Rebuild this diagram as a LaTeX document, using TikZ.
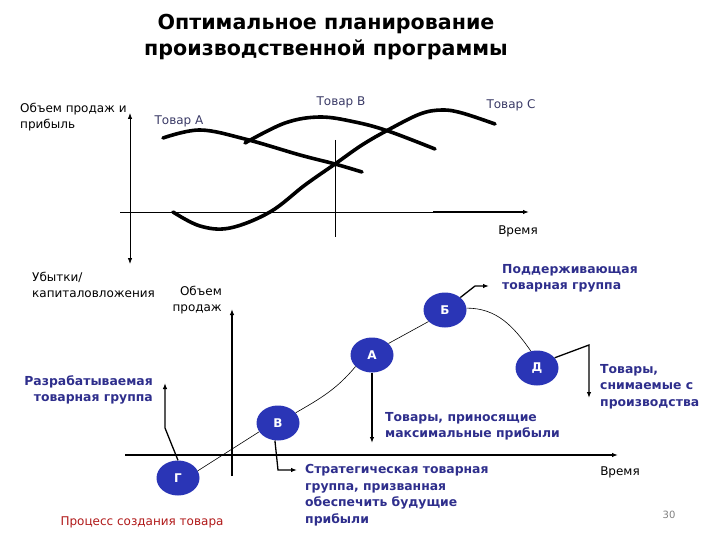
\documentclass[tikz,border=0pt]{standalone}
\usepackage{fontspec}
\setmainfont{DejaVu Sans}
\usetikzlibrary{arrows.meta, shapes.geometric, positioning, calc}
\definecolor{PlanInk}{HTML}{2E2E8C}
\definecolor{StageBlue}{HTML}{2A35B6}
\definecolor{ProcRed}{HTML}{B01818}
\definecolor{ProductInk}{HTML}{3A3A66}
\newcommand{\LabelFont}{\fontsize{12pt}{16pt}\selectfont}
\newcommand{\NoteFont}{\bfseries\fontsize{12.4pt}{16.7pt}\selectfont}

\begin{document}
\begin{tikzpicture}[x=1pt, y=-1pt,
  curve/.style={line width=3.6pt, line cap=round},
  stage/.style={ellipse, fill=StageBlue, minimum width=43pt, minimum height=35pt, inner sep=0pt,
    text=white, font=\bfseries\fontsize{12pt}{13pt}\selectfont},
  note/.style={text=PlanInk, font=\NoteFont, inner sep=0pt},
  plain/.style={font=\LabelFont, inner sep=0pt},
  pointer/.style={line width=1.3pt, -{Latex[length=6pt,width=4.5pt]}}
]
  \useasboundingbox (0,0) rectangle (720,540);
  % title
  \node[font=\bfseries\fontsize{20.6pt}{26pt}\selectfont, align=center] (title) at (326,37)
    {Оптимальное планирование\\производственной программы};

  % top chart: axes and the marker line
  \coordinate (ytop) at (130,113);
  \coordinate (ybot) at (130,264);
  \coordinate (xleft) at (120,212);
  \coordinate (xmid) at (433,212);
  \coordinate (xend) at (529,212);
  \draw[line width=0.8pt, {Latex[length=6pt,width=4.5pt]}-{Latex[length=6pt,width=4.5pt]}] (ybot) -- (ytop);
  \draw[line width=0.8pt] (xleft) -- (xmid);
  \draw[line width=1.6pt, -{Latex[length=6pt,width=4.5pt]}] (xmid) -- (xend);
  \draw[line width=0.8pt] (335,140) -- (335,237);
  % product life curves
  \draw[curve] plot[smooth, tension=0.6] coordinates {(163,138) (200,130) (245,139) (300,155) (335,164) (362,172)};
  \draw[curve] plot[smooth, tension=0.6] coordinates {(245,143) (285,123) (320,117) (355,122) (388,131) (435,149)};
  \draw[curve] plot[smooth, tension=0.6] coordinates {(173,212) (200,226) (230,228) (270,212) (305,185)
    (335,164) (362,145) (388,130) (420,114) (442,110) (462,113) (495,124)};
  % top chart labels
  \node[plain, anchor=north west, align=left] (yname) at (20,103) {Объем продаж и\\прибыль};
  \node[plain, text=ProductInk] (prodA) at (179,121) {Товар А};
  \node[plain, text=ProductInk] (prodB) at (341,102) {Товар В};
  \node[plain, text=ProductInk] (prodC) at (511,105) {Товар С};
  \node[plain] (time1) at (518,231) {Время};
  \node[plain, anchor=north west, align=left] (loss) at (32,272) {Убытки/\\капиталовложения};

  % bottom chart: axes
  \node[plain, anchor=north east, align=right] (sales) at (222,286) {Объем\\продаж};
  \coordinate (vtop) at (232,309);
  \coordinate (vbot) at (232,476);
  \coordinate (hleft) at (125,455);
  \coordinate (hend) at (618,455);
  \draw[line width=2pt, -{Latex[length=6pt,width=4.5pt]}] (vbot) -- (vtop);
  \draw[line width=2pt, -{Latex[length=6pt,width=4.5pt]}] (hleft) -- (hend);

  % stages of the product line
  \node[stage] (G) at (178,478) {Г};
  \node[stage] (V) at (278,423) {В};
  \node[stage] (A) at (372,355) {А};
  \node[stage] (B) at (445,310) {Б};
  \node[stage] (D) at (537,368) {Д};
  \draw[line width=0.6pt] (G.20) -- (V.205);
  \draw[line width=0.6pt] (V.30) to[out=30, in=230] (A.215);
  \draw[line width=0.6pt] (A.35) -- (B.215);
  \draw[line width=0.6pt] (B.5) to[out=0, in=125] (D.110);

  % notes on each stage
  \node[note, anchor=north east, align=right] (devgroup) at (153,375) {Разрабатываемая\\товарная группа};
  \coordinate (devend) at (165,383);
  \draw[pointer] (G.north) -- (165,428) -- (devend);

  \node[note, anchor=north west, align=left] (strat) at (305,464)
    {Стратегическая товарная\\группа, призванная\\обеспечить будущие\\прибыли};
  \coordinate (stratend) at (297,470);
  \draw[pointer] (V.260) -- (278,470) -- (stratend);

  \node[note, anchor=north west, align=left] (maxprof) at (385,412) {Товары, приносящие\\максимальные прибыли};
  \coordinate (maxend) at (372,443);
  \draw[pointer] (A.south) -- (maxend);

  \node[note, anchor=north west, align=left] (support) at (502,264) {Поддерживающая\\товарная группа};
  \coordinate (supend) at (489,286);
  \draw[pointer] (B.north east) -- (475,286) -- (supend);

  \node[note, anchor=north west, align=left] (retired) at (600,364) {Товары,\\снимаемые с\\производства};
  \coordinate (retend) at (589,398);
  \draw[pointer] (D.30) -- (589,345) -- (retend);

  % footer
  \node[plain] (time2) at (620,472) {Время};
  \node[plain, text=ProcRed] (process) at (142,522) {Процесс создания товара};
  \node[font=\fontsize{10pt}{12pt}\selectfont, text=gray, inner sep=0pt] (page) at (669,515) {30};
\end{tikzpicture}
\end{document}
